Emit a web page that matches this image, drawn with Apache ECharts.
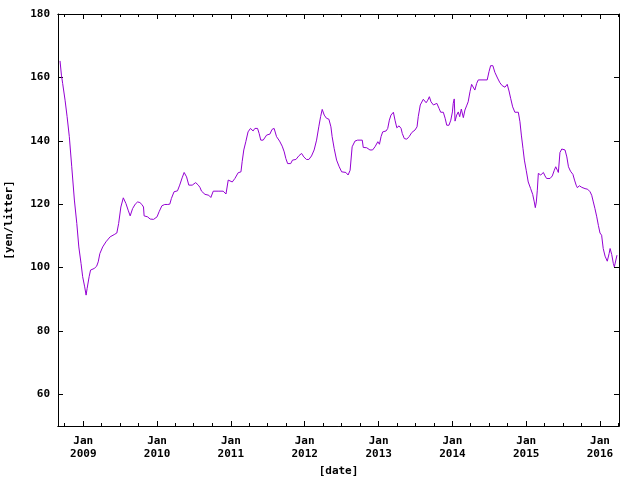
<!DOCTYPE html>
<html>
<head>
<meta charset="utf-8">
<script src="https://cdn.jsdelivr.net/npm/echarts@6/dist/echarts.min.js"></script>
<style>
html,body{margin:0;padding:0;background:#fff;}
#chart{width:640px;height:480px;}
</style>
</head>
<body>
<div id="chart"></div>
<script>
const dates = [
'2008-09-08','2008-09-15','2008-09-21','2008-10-03','2008-10-13','2008-10-24','2008-11-05','2008-11-18','2008-11-30','2008-12-10',
'2008-12-21','2008-12-29','2009-01-08','2009-01-15','2009-01-20','2009-01-30','2009-02-06','2009-02-24','2009-03-08','2009-03-16',
'2009-03-24','2009-04-07','2009-04-23','2009-05-14','2009-06-03','2009-06-16','2009-06-25','2009-07-06','2009-07-18','2009-07-31',
'2009-08-11','2009-08-21','2009-09-02','2009-09-15','2009-09-27','2009-10-08','2009-10-18','2009-10-26','2009-10-29','2009-11-15',
'2009-11-28','2009-12-15','2010-01-01','2010-01-11','2010-01-25','2010-02-08','2010-02-23','2010-03-05','2010-03-13','2010-03-26',
'2010-04-12','2010-04-23','2010-05-05','2010-05-15','2010-05-27','2010-06-07','2010-06-24','2010-07-11','2010-07-24','2010-08-01',
'2010-08-09','2010-08-26','2010-09-14','2010-09-24','2010-10-06','2010-10-30','2010-11-24','2010-12-08','2010-12-19','2010-12-27',
'2011-01-08','2011-01-21','2011-02-06','2011-02-20','2011-02-26','2011-03-06','2011-03-16','2011-03-27','2011-04-08','2011-04-21',
'2011-04-30','2011-05-13','2011-05-21','2011-05-29','2011-06-10','2011-06-27','2011-07-13','2011-07-24','2011-08-03','2011-08-15',
'2011-08-30','2011-09-12','2011-09-22','2011-09-30','2011-10-09','2011-10-24','2011-11-02','2011-11-19','2011-12-04','2011-12-17',
'2011-12-28','2012-01-10','2012-01-22','2012-02-04','2012-02-17','2012-02-29','2012-03-11','2012-03-20','2012-03-28','2012-04-07',
'2012-04-18','2012-04-30','2012-05-10','2012-05-16','2012-05-26','2012-06-07','2012-06-20','2012-07-02','2012-07-23','2012-08-03',
'2012-08-13','2012-08-23','2012-09-06','2012-09-19','2012-10-12','2012-10-17','2012-11-03','2012-11-19','2012-12-02','2012-12-14',
'2012-12-28','2013-01-05','2013-01-13','2013-01-21','2013-02-07','2013-02-15','2013-02-23','2013-03-03','2013-03-15','2013-03-23',
'2013-04-01','2013-04-12','2013-04-22','2013-04-28','2013-05-08','2013-05-20','2013-06-01','2013-06-14','2013-06-30','2013-07-10',
'2013-07-16','2013-07-26','2013-08-10','2013-08-24','2013-09-01','2013-09-09','2013-09-17','2013-09-29','2013-10-16','2013-10-27',
'2013-11-04','2013-11-17','2013-11-26','2013-12-04','2013-12-15','2013-12-24','2014-01-01','2014-01-05','2014-01-10','2014-01-14',
'2014-01-22','2014-01-30','2014-02-06','2014-02-14','2014-02-24','2014-03-04','2014-03-12','2014-03-20','2014-03-29','2014-04-06',
'2014-04-14','2014-04-22','2014-05-01','2014-05-09','2014-06-22','2014-07-01','2014-07-09','2014-07-20','2014-07-30','2014-08-12',
'2014-08-24','2014-09-04','2014-09-18','2014-09-29','2014-10-08','2014-10-16','2014-10-26','2014-11-06','2014-11-23','2014-12-01',
'2014-12-08','2014-12-16','2014-12-23','2015-01-01','2015-01-11','2015-01-23','2015-02-02','2015-02-10','2015-02-15','2015-02-20',
'2015-02-25','2015-03-02','2015-03-14','2015-03-27','2015-04-04','2015-04-12','2015-04-29','2015-05-10','2015-05-20','2015-05-27',
'2015-06-04','2015-06-09','2015-06-17','2015-06-26','2015-07-04','2015-07-12','2015-07-21','2015-07-29','2015-08-08','2015-08-20',
'2015-08-28','2015-09-05','2015-09-11','2015-09-21','2015-10-03','2015-10-19','2015-11-01','2015-11-13','2015-11-21','2015-11-29',
'2015-12-07','2015-12-16','2015-12-24','2016-01-01','2016-01-09','2016-01-17','2016-01-26','2016-02-06','2016-02-15','2016-02-20',
'2016-02-28','2016-03-07','2016-03-12','2016-03-19','2016-03-25'
];
const prices = [
165.2,160.7,158.1,152.8,147.6,141.3,131.8,121.3,113.9,106.5,
101.3,97.1,93.9,91.3,93.4,97.1,99.2,99.7,100.4,101.8,
104.4,106.5,108.1,109.7,110.4,110.9,113.9,119.1,122.0,120.2,
118.1,116.3,118.6,120.0,120.7,120.5,119.9,119.1,116.3,116.0,
115.3,115.2,116.0,117.6,119.5,119.9,119.9,120.0,121.8,123.9,
124.2,126.0,128.3,130.0,128.6,126.0,126.0,126.8,126.0,125.3,
124.1,123.1,122.8,122.1,124.1,124.1,124.1,123.2,127.6,128.1,
127.0,128.1,129.9,130.2,133.4,137.1,139.7,142.8,143.9,143.1,
143.9,143.9,142.3,140.2,140.2,141.8,142.1,143.6,143.9,141.3,
139.9,138.3,136.5,134.4,132.8,132.8,133.9,134.1,135.3,136.0,
134.9,134.1,134.1,135.2,137.1,140.2,144.4,147.6,149.9,148.1,
147.1,146.8,144.4,141.3,137.6,133.9,131.8,130.2,130.0,129.2,
130.7,138.1,139.9,140.2,140.2,137.9,137.8,137.1,137.1,138.1,
139.7,138.9,141.3,142.8,143.1,143.9,146.5,148.1,149.0,146.5,
144.1,144.7,143.9,142.3,140.7,140.5,141.3,142.6,143.4,144.4,
147.6,151.3,153.1,152.0,152.8,153.9,152.3,151.3,151.8,150.2,
149.0,149.0,147.1,144.9,144.9,146.5,149.1,151.8,153.2,146.2,
148.1,149.1,147.6,150.0,147.3,149.7,151.0,152.3,155.5,157.8,
157.6,156.0,158.1,159.2,159.2,161.8,163.7,163.7,161.6,159.8,
158.3,157.4,156.9,157.8,155.7,153.4,150.7,149.0,149.0,146.0,
141.8,137.6,133.9,130.7,127.0,124.9,123.1,120.7,118.9,120.7,
124.4,129.7,129.2,130.0,128.9,128.1,128.1,128.9,130.7,131.8,
130.7,130.0,136.3,137.4,137.9,137.1,134.9,131.8,130.4,129.4,
127.6,126.0,125.2,125.8,125.3,124.9,124.7,123.9,122.8,120.7,
118.6,116.0,113.3,110.9,110.2,106.0,103.6,102.0,104.4,106.0,
104.1,101.3,100.2,100.7,103.9
];
const yearTicks = ['2009-01-01','2010-01-01','2011-01-01','2012-01-01','2013-01-01','2014-01-01','2015-01-01','2016-01-01'];
const quarterTicks = ['2008-10-01','2009-04-01','2009-07-01','2009-10-01','2010-04-01','2010-07-01','2010-10-01',
  '2011-04-01','2011-07-01','2011-10-01','2012-04-01','2012-07-01','2012-10-01','2013-04-01','2013-07-01','2013-10-01',
  '2014-04-01','2014-07-01','2014-10-01','2015-04-01','2015-07-01','2015-10-01','2016-04-01'];
const yTicks = [60, 80, 100, 120, 140, 160, 180];
const monthNames = ['Jan','Feb','Mar','Apr','May','Jun','Jul','Aug','Sep','Oct','Nov','Dec'];
const xMin = '2008-08-29', xMax = '2016-04-04';

function ts(s){ const p = s.split('-').map(Number); return new Date(p[0], p[1]-1, p[2]).getTime(); }

const FONT = 'DejaVu Sans Mono';
const lineStyle = {color:'#000', width:1};
function xAx(pos, ticks, len, labels){
  return {
    type:'value', position:pos, min:ts(xMin), max:ts(xMax), scale:true,
    axisLine:{show:true, onZero:false, lineStyle:lineStyle},
    axisTick:{show:true, inside:true, length:len, customValues:ticks.map(ts), lineStyle:lineStyle},
    axisLabel: labels ? {show:true, customValues:ticks.map(ts), margin:9, fontFamily:FONT, fontWeight:'bold', fontSize:11, lineHeight:13, color:'#000',
      formatter:function(v){ const d=new Date(v); return monthNames[d.getMonth()]+'\n'+d.getFullYear(); }} : {show:false},
    splitLine:{show:false},
    name: labels ? '[date]' : '', nameLocation:'middle', nameGap:40,
    nameTextStyle:{fontFamily:FONT, fontWeight:'bold', fontSize:11, color:'#000'}
  };
}
function yAx(pos, labels){
  return {
    type:'value', position:pos, min:50, max:180,
    axisLine:{show:true, onZero:false, lineStyle:lineStyle},
    axisTick:{show:true, inside:true, length:5, customValues:yTicks, lineStyle:lineStyle},
    axisLabel: labels ? {show:true, customValues:yTicks, margin:8, fontFamily:FONT, fontWeight:'bold', fontSize:11, color:'#000'} : {show:false},
    splitLine:{show:false},
    name: labels ? '[yen/litter]' : '', nameLocation:'middle', nameGap:43, nameRotate:90,
    nameTextStyle:{fontFamily:FONT, fontWeight:'bold', fontSize:11, color:'#000'}
  };
}

const chart = echarts.init(document.getElementById('chart'), null, {renderer:'canvas'});
chart.setOption({
  animation:false,
  backgroundColor:'#fff',
  grid:{left:58, top:14, width:561, height:412, containLabel:false, outerBoundsMode:'none'},
  xAxis:[ xAx('bottom', yearTicks, 5, true), xAx('bottom', quarterTicks, 3, false),
          xAx('top', yearTicks, 5, false), xAx('top', quarterTicks, 3, false) ],
  yAxis:[ yAx('left', true), yAx('right', false) ],
  series:[{
    type:'line', xAxisIndex:0, yAxisIndex:0, showSymbol:false, symbol:'none',
    data: dates.map((d,i)=>[ts(d), prices[i]]),
    lineStyle:{color:'#9400D3', width:1}
  }]
});
</script>
</body>
</html>
